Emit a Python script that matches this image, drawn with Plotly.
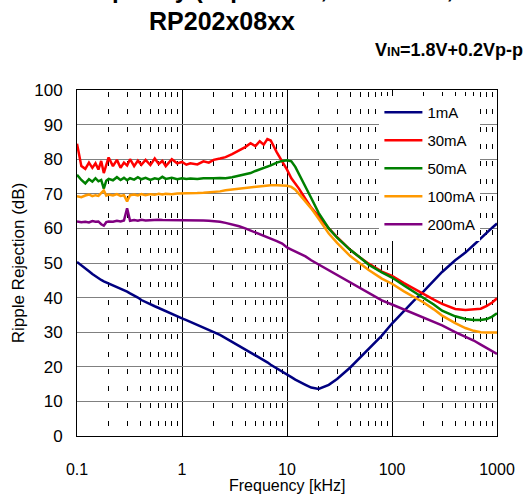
import plotly.graph_objects as go

freq_khz = [0.1, 0.11, 0.12, 0.13, 0.14, 0.15, 0.16, 0.17, 0.18, 0.19,
            0.2, 0.22, 0.24, 0.26, 0.28, 0.3, 0.32, 0.35, 0.38, 0.41,
            0.45, 0.5, 0.55, 0.6, 0.65, 0.7, 0.8, 0.9, 1.0, 1.1,
            1.2, 1.4, 1.6, 1.8, 2.0, 2.3, 2.6, 3.0, 3.5, 4.0,
            4.5, 5.0, 5.5, 6.0, 6.5, 7.0, 8.0, 9.0, 10, 11,
            12, 13, 15, 17, 20, 25, 30, 40, 50, 60,
            80, 100, 130, 160, 200, 250, 300, 400, 500, 600,
            700, 800, 900, 1000]

rr_1mA = [50.3, 49.4, 48.5, 47.6, 46.8, 46.1, 45.6, 45.1, 44.7, 44.4,
          44.0, 43.5, 43.0, 42.5, 42.1, 41.7, 41.2, 40.6, 40.0, 39.3,
          38.8, 38.1, 37.5, 37.0, 36.5, 36.1, 35.3, 34.6, 34.0, 33.5,
          33.0, 32.1, 31.3, 30.6, 30.1, 29.2, 28.3, 27.2, 26.2, 25.2,
          24.3, 23.5, 22.7, 22.0, 21.3, 20.6, 19.6, 18.6, 17.7, 17.0,
          16.3, 15.7, 14.8, 14.0, 13.6, 14.8, 16.5, 19.8, 22.8, 25.0,
          29.0, 32.5, 36.3, 39.0, 41.8, 45.0, 47.4, 50.8, 53.0, 55.2,
          57.2, 58.8, 60.2, 61.4]

rr_30mA = [84.5, 78.0, 77.2, 79.0, 77.5, 78.8, 77.0, 79.5, 76.0, 78.5,
           80.5, 78.0, 79.8, 77.5, 79.0, 78.2, 80.0, 78.0, 79.6, 78.4,
           79.8, 78.3, 80.2, 78.6, 79.5, 78.0, 80.0, 78.8, 79.2, 78.4,
           78.8, 78.5, 79.4, 79.0, 79.8, 80.2, 80.6, 81.5, 82.5, 83.5,
           84.6, 83.8, 85.2, 84.2, 85.8, 85.4, 82.0, 79.5, 77.0, 74.5,
           73.0, 71.5, 68.5, 66.0, 63.5, 60.0, 57.5, 53.8, 51.5, 49.8,
           47.5, 46.3, 44.2, 42.6, 41.0, 39.4, 38.2, 36.7, 36.4, 36.5,
           36.8, 37.6, 38.6, 39.8]

rr_50mA = [75.5, 74.0, 73.0, 74.2, 73.5, 74.5, 73.6, 74.0, 71.5, 73.8,
           74.3, 73.9, 74.8, 74.0, 74.6, 73.9, 74.5, 74.1, 74.8, 74.2,
           74.6, 74.0, 74.5, 74.2, 74.9, 74.3, 74.6, 74.2, 74.5, 74.3,
           74.4, 74.3, 74.5, 74.4, 74.5, 74.6, 74.5, 74.8, 75.3, 75.6,
           76.0, 76.6, 77.0, 77.4, 77.8, 78.2, 79.0, 79.5, 79.7, 79.4,
           77.8, 75.8, 72.0, 68.8, 64.5, 60.0, 57.3, 53.8, 51.5, 49.5,
           47.3, 45.8, 43.5, 41.8, 40.0, 38.0, 36.2, 34.6, 33.8, 33.5,
           33.5, 33.8, 34.5, 35.5]

rr_100mA = [69.3, 69.0, 69.5, 69.8, 69.3, 69.6, 69.4, 70.2, 71.0, 69.5,
            69.8, 69.5, 69.9, 69.4, 69.6, 67.8, 69.6, 69.8, 69.5, 69.9,
            69.6, 69.9, 69.7, 70.0, 69.8, 70.0, 69.9, 70.1, 70.1, 70.0,
            70.2, 70.2, 70.3, 70.4, 70.5, 70.7, 71.0, 71.2, 71.4, 71.6,
            71.8, 72.1, 72.2, 72.3, 72.4, 72.5, 72.5, 72.4, 72.3, 72.0,
            71.2, 70.0, 67.8, 65.8, 62.8, 58.5, 55.8, 52.0, 49.8, 48.0,
            45.5, 44.0, 41.8, 40.2, 38.6, 36.6, 34.8, 32.6, 31.2, 30.4,
            30.0, 29.9, 29.9, 29.9]

rr_200mA = [62.0, 61.8, 61.9, 61.7, 62.1, 61.9, 62.0, 61.2, 60.8, 61.8,
            62.0, 61.9, 62.2, 62.0, 62.3, 65.8, 62.2, 62.4, 62.2, 62.5,
            62.3, 62.4, 62.3, 62.5, 62.4, 62.4, 62.5, 62.4, 62.4, 62.4,
            62.4, 62.4, 62.3, 62.2, 62.1, 61.9, 61.6, 61.2, 60.6, 60.0,
            59.4, 58.9, 58.4, 58.0, 57.5, 57.1, 56.3, 55.6, 54.5, 53.9,
            53.3, 52.9, 51.9, 50.8, 49.6, 47.9, 46.5, 44.3, 42.6, 41.3,
            39.2, 38.0, 36.6, 35.5, 34.3, 33.0, 32.0, 30.0, 28.7, 27.6,
            26.4, 25.4, 24.5, 23.7]

series_names = ["1mA", "30mA", "50mA", "100mA", "200mA"]
series_values = [rr_1mA, rr_30mA, rr_50mA, rr_100mA, rr_200mA]
series_colors = ["#000080", "#FF0000", "#008000", "#FF9900", "#800080"]

x_tickvals = [0.1, 1, 10, 100, 1000]
x_ticktext = ["0.1", "1", "10", "100", "1000"]
y_tickvals = [0, 10, 20, 30, 40, 50, 60, 70, 80, 90, 100]

FONT = "Liberation Sans, Arial, sans-serif"

fig = go.Figure()
for name, vals, col in zip(series_names, series_values, series_colors):
    fig.add_trace(go.Scatter(
        x=freq_khz, y=vals, mode="lines", name=name, legendgroup=name,
        line=dict(color=col, width=2.5),
    ))

fig.update_layout(
    width=529, height=497,
    margin=dict(l=77, r=32, t=90, b=61),
    paper_bgcolor="white", plot_bgcolor="white",
    font=dict(family=FONT, color="black", size=16),
    showlegend=True,
    legend=dict(
        x=0.72, y=0.983, xanchor="left", yanchor="top",
        bgcolor="white", borderwidth=0,
        font=dict(family=FONT, size=15, color="black"),
        tracegroupgap=5.5, itemwidth=38,
    ),
    xaxis=dict(
        type="log", range=[-1, 3],
        tickvals=x_tickvals, ticktext=x_ticktext,
        showgrid=True, gridcolor="black", gridwidth=1,
        showline=True, linecolor="black", linewidth=1, mirror=True,
        ticks="", zeroline=False,
        tickfont=dict(family=FONT, size=16),
        ticklabelstandoff=19,
        minor=dict(dtick="D1", showgrid=True, gridcolor="black",
                   gridwidth=1, griddash="0px,2px,5px,10.3px", ticks=""),
    ),
    yaxis=dict(
        range=[0, 100], tickvals=y_tickvals,
        showgrid=True, gridcolor="#808080", gridwidth=1,
        showline=True, linecolor="black", linewidth=1, mirror=True,
        ticks="", zeroline=False,
        tickfont=dict(family=FONT, size=17),
        ticklabelstandoff=10,
        title=dict(text="Ripple Rejection (dB)", font=dict(family=FONT, size=17),
                   standoff=5),
    ),
    annotations=[
        dict(text="<b>Ripple Rejection vs. Frequency (Topt=25°C, CIN=none, COUT=1.0µF)</b>",
             xref="paper", yref="paper", x=(222 - 77) / 420, y=1 + (90 + 11) / 346,
             xanchor="center", yanchor="middle", showarrow=False,
             font=dict(family=FONT, size=24, color="black")),
        dict(text="<b>RP202x08xx</b>",
             xref="paper", yref="paper", x=(222 - 77) / 420, y=1 + (90 - 21) / 346,
             xanchor="center", yanchor="middle", showarrow=False,
             font=dict(family=FONT, size=25, color="black")),
        dict(text="<b>V<span style='font-size:13px'>IN</span>=1.8V+0.2Vp-p</b>",
             xref="paper", yref="paper", x=(525 - 77) / 420, y=1 + (90 - 50) / 346,
             xanchor="right", yanchor="middle", showarrow=False,
             font=dict(family=FONT, size=18, color="black")),
        dict(text="Frequency [kHz]",
             xref="paper", yref="paper", x=0.5, y=-(485 - 436) / 346,
             xanchor="center", yanchor="middle", showarrow=False,
             font=dict(family=FONT, size=16, color="black")),
    ],
)

fig.write_html("out.html", config={"displayModeBar": False},
               post_script="document.body.style.margin='0';")
